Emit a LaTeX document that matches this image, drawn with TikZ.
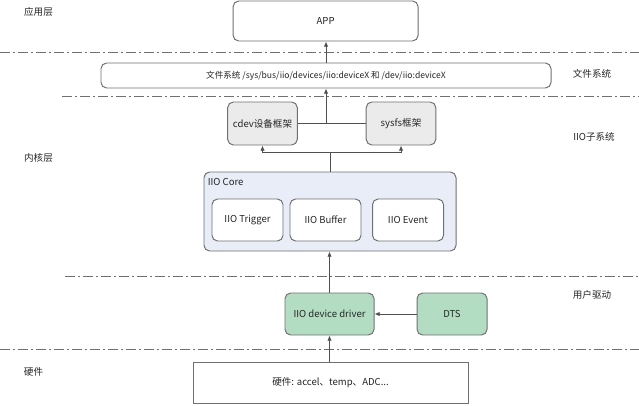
\documentclass[tikz,border=0pt]{standalone}
\usepackage{fontspec}
\setmainfont{Noto Sans CJK SC}
\usetikzlibrary{arrows.meta}
\definecolor{iiogray}{HTML}{707070}
\definecolor{iioline}{HTML}{505050}
\definecolor{iiofw}{HTML}{EBEBEB}
\definecolor{iiocore}{HTML}{E9EDF8}
\definecolor{iiogreen}{HTML}{B3DDC3}
\definecolor{iiotext}{HTML}{262626}

\begin{document}
\begin{tikzpicture}[
    box/.style={draw=iiogray, line width=0.7pt, rounded corners=4pt, fill=white,
                align=center, inner sep=0pt, text=iiotext, font=\fontsize{6.8}{8}\selectfont},
    fw/.style={box, fill=iiofw, minimum width=1.74cm, minimum height=1.075cm},
    sub/.style={box, minimum width=1.775cm, minimum height=1.05cm},
    drv/.style={box, fill=iiogreen, minimum height=1.05cm},
    layer/.style={text=iiotext, inner sep=0pt, font=\fontsize{6.8}{8}\selectfont},
    sep/.style={draw=iiogray, line width=0.6pt, dash pattern=on 7pt off 2.2pt on 1.4pt off 2.2pt},
    arrow/.style={-{Latex[length=1.3mm, width=1.1mm]}, draw=iioline, line width=0.6pt},
    link/.style={draw=iioline, line width=0.6pt}
  ]
    \useasboundingbox (0,0) rectangle (15.975,10.125);

    % layer separators
    \draw[sep] (0,8.825)     -- (15.975,8.825);
    \draw[sep] (1.55,7.725)  -- (15.975,7.725);
    \draw[sep] (1.625,3.225) -- (15.975,3.225);
    \draw[sep] (0,1.4)       -- (15.975,1.4);

    % layer names
    \node[layer] (lapp)  at (0.9625,9.825) {应用层};
    \node[layer] (lfs)   at (14.8,8.275)   {文件系统};
    \node[layer] (lsub)  at (14.85,6.7)    {IIO子系统};
    \node[layer] (lkern) at (0.9625,6.175) {内核层};
    \node[layer] (ldrv)  at (14.8,2.75)    {用户驱动};
    \node[layer] (lhw)   at (0.8375,0.825) {硬件};

    \node[box, minimum width=4.625cm, minimum height=1.0cm] (app) at (8.14,9.6) {APP};
    \node[box, minimum width=11.25cm, minimum height=0.625cm, font=\fontsize{6.1}{7}\selectfont]
      (fs) at (8.15,8.2375) {文件系统 /sys/bus/iio/devices/iio:deviceX 和 /dev/iio:deviceX};

    \node[fw] (cdev)  at (6.5625,7.0375) {cdev设备框架};
    \node[fw] (sysfs) at (10.025,7.0375) {sysfs框架};

    \node[box, fill=iiocore, minimum width=6.3cm, minimum height=1.975cm] (core) at (8.25,4.8375) {};
    \node[layer, anchor=west] (coretitle) at (5.19,5.575) {IIO Core};
    \node[sub] (trig) at (6.1875,4.625) {IIO Trigger};
    \node[sub] (buf)  at (8.1375,4.625) {IIO Buffer};
    \node[sub] (evt)  at (10.2,4.625)   {IIO Event};

    \node[drv, minimum width=2.225cm] (drv) at (8.2375,2.275) {IIO device driver};
    \node[drv, minimum width=1.75cm]  (dts) at (11.3,2.275)   {DTS};

    \node[box, sharp corners, minimum width=6.875cm, minimum height=1.025cm] (hw) at (8.2625,0.5625)
      {硬件: accel、temp、ADC...};

    \coordinate (split) at (8.25,6.325);
    \coordinate (merge) at (8.15,7.0375);

    \draw[arrow] (drv.south |- hw.north) -- (drv.south);
    \draw[arrow] (dts) -- (drv);
    \draw[arrow] (drv.north) -- (drv.north |- core.south);
    \draw[link]  (core.north) -- (split);
    \draw[arrow] (split) -| (cdev.south);
    \draw[arrow] (split) -| (sysfs.south);
    \draw[link]  (cdev) -- (sysfs);
    \draw[arrow] (merge) -- (merge |- fs.south);
    \draw[arrow] (fs.north) -- (fs.north |- app.south);
  \end{tikzpicture}
\end{document}
